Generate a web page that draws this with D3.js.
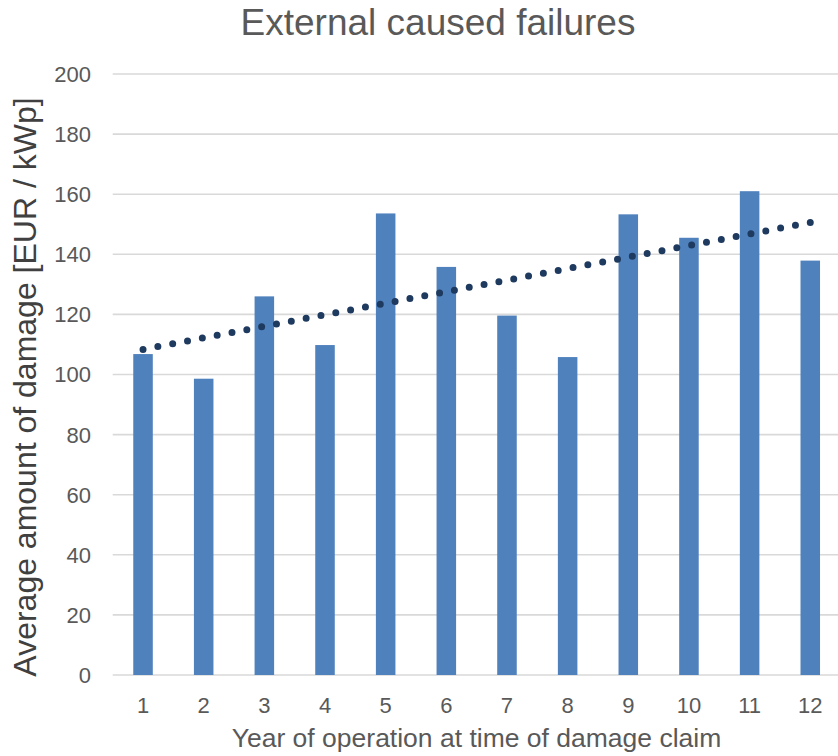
<!DOCTYPE html>
<html>
<head>
<meta charset="utf-8">
<script src="https://cdn.jsdelivr.net/npm/d3@7"></script>
<style>
  html, body { margin: 0; padding: 0; background: #fff; }
  svg { display: block; font-family: "Liberation Sans", Arial, sans-serif; }
</style>
</head>
<body>
<svg id="chart" width="838" height="756"></svg>
<script>
// ---- data ----
const years = [1, 2, 3, 4, 5, 6, 7, 8, 9, 10, 11, 12];
const damage = [106.8, 98.6, 126.0, 109.8, 153.6, 135.8, 119.6, 105.8, 153.3, 145.5, 161.0, 137.9];
const yTicks = [0, 20, 40, 60, 80, 100, 120, 140, 160, 180, 200];
const chartTitle = "External caused failures";
const xTitle = "Year of operation at time of damage claim";
const yTitle = "Average amount of damage [EUR / kWp]";

// ---- layout ----
const W = 838, H = 756;
const plot = { left: 112.7, right: 840.6, top: 74, bottom: 675 };
const svg = d3.select("#chart");

const x = d3.scaleBand()
  .domain(years)
  .range([plot.left, plot.right])
  .paddingInner(0.678)
  .paddingOuter(0.339);

const y = d3.scaleLinear().domain([0, 200]).range([plot.bottom, plot.top]);

// gridlines
svg.append("g")
  .selectAll("line")
  .data(yTicks)
  .join("line")
  .attr("x1", plot.left)
  .attr("x2", W)
  .attr("y1", d => y(d))
  .attr("y2", d => y(d))
  .attr("stroke", "#d9d9d9")
  .attr("stroke-width", 1.6);

// y tick labels
svg.append("g")
  .selectAll("text")
  .data(yTicks)
  .join("text")
  .attr("x", 91)
  .attr("y", d => y(d))
  .attr("dy", "0.36em")
  .attr("text-anchor", "end")
  .attr("font-size", 22)
  .attr("fill", "#595959")
  .text(d => d);

// bars
svg.append("g")
  .selectAll("rect")
  .data(years.map((yr, i) => ({ yr, v: damage[i] })))
  .join("rect")
  .attr("x", d => x(d.yr))
  .attr("width", x.bandwidth())
  .attr("y", d => y(d.v))
  .attr("height", d => y(0) - y(d.v))
  .attr("fill", "#4f81bd");

// x tick labels
svg.append("g")
  .selectAll("text")
  .data(years)
  .join("text")
  .attr("x", d => x(d) + x.bandwidth() / 2)
  .attr("y", 712.5)
  .attr("text-anchor", "middle")
  .attr("font-size", 22)
  .attr("fill", "#595959")
  .text(d => d);

// linear trendline (least squares)
const n = years.length;
const mx = d3.mean(years), my = d3.mean(damage);
const slope = d3.sum(years, (xv, i) => (xv - mx) * (damage[i] - my)) / d3.sum(years, xv => (xv - mx) ** 2);
const intercept = my - slope * mx;
const x0 = years[0], x1 = years[n - 1];
const tx1 = x(x0) + x.bandwidth() / 2, ty1 = y(intercept + slope * x0);
const tx2 = x(x1) + x.bandwidth() / 2, ty2 = y(intercept + slope * x1);
const len = Math.hypot(tx2 - tx1, ty2 - ty1);
const gap = len / Math.round(len / 15.1);
svg.append("line")
  .attr("x1", tx1)
  .attr("y1", ty1)
  .attr("x2", tx2)
  .attr("y2", ty2)
  .attr("stroke", "#1f3a5f")
  .attr("stroke-width", 7)
  .attr("stroke-linecap", "round")
  .attr("stroke-dasharray", `0 ${gap}`);

// title
svg.append("text")
  .attr("x", 438)
  .attr("y", 35)
  .attr("text-anchor", "middle")
  .attr("font-size", 37)
  .attr("fill", "#595959")
  .text(chartTitle);

// x title
svg.append("text")
  .attr("x", 476.5)
  .attr("y", 747)
  .attr("text-anchor", "middle")
  .attr("font-size", 26.5)
  .attr("fill", "#595959")
  .text(xTitle);

// y title
svg.append("text")
  .attr("transform", "translate(36,387) rotate(-90)")
  .attr("text-anchor", "middle")
  .attr("font-size", 32)
  .attr("fill", "#404040")
  .text(yTitle);
</script>
</body>
</html>
